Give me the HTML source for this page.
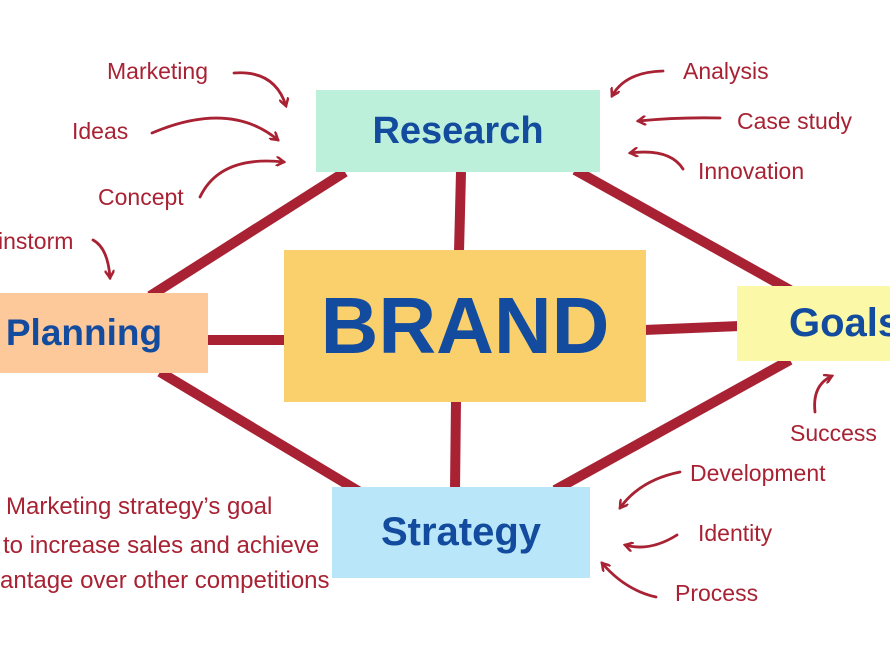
<!DOCTYPE html>
<html><head><meta charset="utf-8"><style>
body{margin:0;width:890px;height:664px;background:#fff;overflow:hidden;position:relative;font-family:"Liberation Sans",sans-serif}
.b{position:absolute;display:flex;align-items:center;justify-content:center;color:#134b9e;font-weight:bold}
.t{position:absolute;color:#a82233;font-size:23px;white-space:nowrap;line-height:1;font-family:"Liberation Sans",sans-serif}
.p{font-size:24px}
</style></head><body>
<svg width="890" height="664" style="position:absolute;left:0;top:0">
<defs><marker id="a" markerWidth="10" markerHeight="10" refX="8" refY="5" orient="auto" markerUnits="userSpaceOnUse"><path d="M0,0 L8,5 L0,10" fill="none" stroke="#a82233" stroke-width="2.5"/></marker></defs>
<g stroke="#a82233" stroke-width="10" stroke-linecap="butt">
<line x1="345" y1="172" x2="150" y2="296"/>
<line x1="575" y1="170" x2="790" y2="290"/>
<line x1="461" y1="172" x2="459" y2="252"/>
<line x1="206" y1="340" x2="286" y2="340"/>
<line x1="644" y1="330" x2="740" y2="326"/>
<line x1="160" y1="372" x2="360" y2="492"/>
<line x1="790" y1="360" x2="555" y2="490"/>
<line x1="456" y1="400" x2="455" y2="490"/>
</g>
<g stroke="#a82233" stroke-width="2.8" fill="none" marker-end="url(#a)" stroke-linecap="round">
<path d="M234,73 Q275,70 286,106"/>
<path d="M152,133 Q230,100 278,140"/>
<path d="M200,197 Q220,155 284,162"/>
<path d="M93,240 Q108,248 110,278"/>
<path d="M663,71 Q625,72 612,96"/>
<path d="M720,118 Q680,117 638,121"/>
<path d="M683,169 Q670,148 630,153"/>
<path d="M815,412 Q812,385 832,376"/>
<path d="M680,472 Q640,480 620,508"/>
<path d="M677,535 Q650,552 625,545"/>
<path d="M656,597 Q625,590 602,563"/>
</g>
</svg>
<div class="b" style="left:316px;top:90px;width:284px;height:82px;background:#bdf0da;font-size:38px">Research</div>
<div class="b" style="left:284px;top:250px;width:362px;height:152px;background:#f9d06b;font-size:80px">BRAND</div>
<div class="b" style="left:-40px;top:293px;width:248px;height:80px;background:#fdc99a;font-size:37px">Planning</div>
<div class="b" style="left:737px;top:286px;width:190px;height:75px;background:#fbf8a8;font-size:40px;justify-content:flex-start;padding-left:52px;box-sizing:border-box">Goals</div>
<div class="b" style="left:332px;top:487px;width:258px;height:91px;background:#b9e6f8;font-size:40px">Strategy</div>
<div class="t" style="left:107px;top:60px">Marketing</div>
<div class="t" style="left:72px;top:120px">Ideas</div>
<div class="t" style="left:98px;top:186px">Concept</div>
<div class="t" style="left:-2px;top:230px">instorm</div>
<div class="t" style="left:683px;top:60px">Analysis</div>
<div class="t" style="left:737px;top:110px">Case study</div>
<div class="t" style="left:698px;top:160px">Innovation</div>
<div class="t" style="left:790px;top:422px">Success</div>
<div class="t" style="left:690px;top:462px">Development</div>
<div class="t" style="left:698px;top:522px">Identity</div>
<div class="t" style="left:675px;top:582px">Process</div>
<div class="t p" style="left:6px;top:495px">Marketing strategy’s goal</div>
<div class="t p" style="left:3px;top:534px">to increase sales and achieve</div>
<div class="t p" style="left:0px;top:569px">antage over other competitions</div>
</body></html>
